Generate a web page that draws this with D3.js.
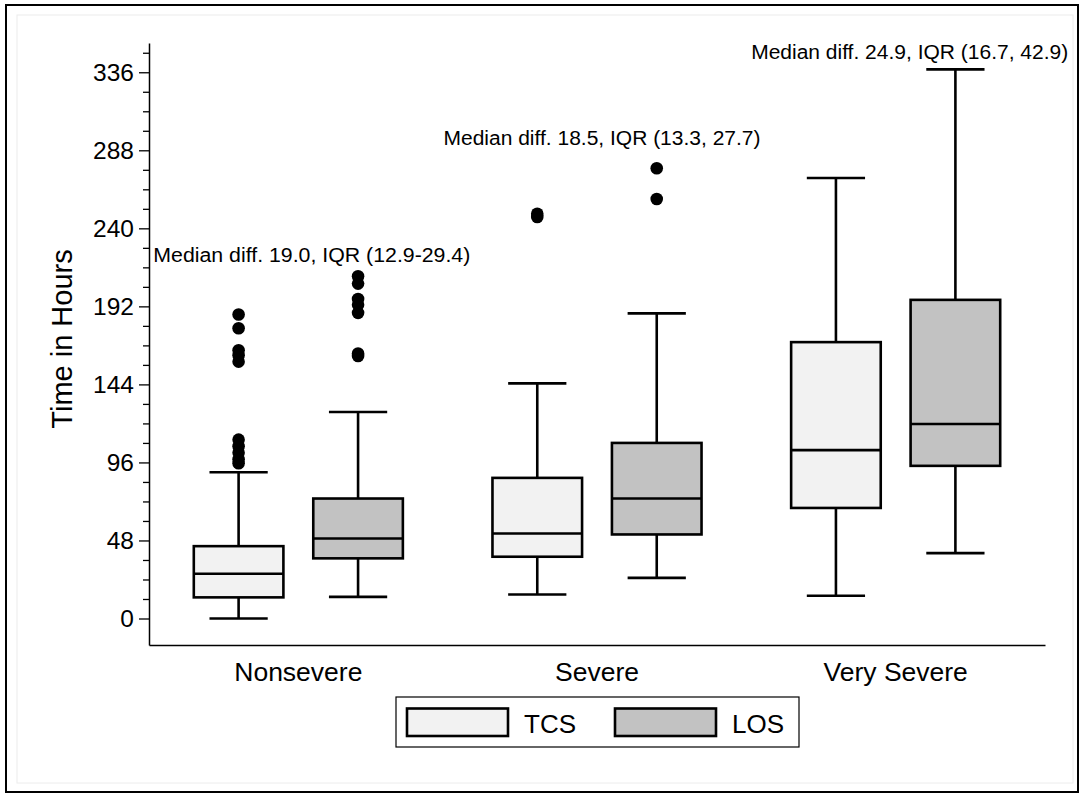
<!DOCTYPE html>
<html>
<head>
<meta charset="utf-8">
<script src="https://cdn.jsdelivr.net/npm/d3@7"></script>
<style>
  body { margin: 0; background: #fff; }
  text { font-family: "Liberation Sans", Arial, sans-serif; fill: #000; }
</style>
</head>
<body>
<div id="chart"></div>
<script>
// data (hours)
var categories = ["Nonsevere", "Severe", "Very Severe"];
var seriesNames = ["TCS", "LOS"];
// [min, q1, median, q3, max]
var tcsBoxes = [[0, 13, 27.5, 44.5, 90], [14.8, 38, 52.3, 86.5, 144.6], [14, 68, 103.6, 170, 271]];
var losBoxes = [[13.3, 37, 49.2, 73.8, 127], [25, 51.7, 73.8, 108, 187.7], [40.2, 93.9, 119.6, 196, 337.8]];
var tcsOutliers = [[187, 178.5, 165, 162, 158, 110, 106, 102, 98, 95.5], [249, 247], []];
var losOutliers = [[210.5, 206, 196.5, 193, 188, 163, 161.5], [277, 258], []];
var yTicks = [0, 48, 96, 144, 192, 240, 288, 336];
var notes = ["Median diff. 19.0, IQR (12.9-29.4)", "Median diff. 18.5, IQR (13.3, 27.7)", "Median diff. 24.9, IQR (16.7, 42.9)"];
var noteHours = [219.5, 291.3, 344.2];

var svgWidth = 1081, svgHeight = 794;
var fills = ["#f2f2f2", "#c2c2c2"];

var svg = d3.select("#chart").append("svg")
  .attr("width", svgWidth)
  .attr("height", svgHeight);

// outer frame
svg.append("rect")
  .attr("x", 6).attr("y", 5)
  .attr("width", 1072).attr("height", 787)
  .attr("fill", "none").attr("stroke", "#000").attr("stroke-width", 2);
svg.append("rect")
  .attr("x", 17).attr("y", 15)
  .attr("width", 1056).attr("height", 768)
  .attr("fill", "none").attr("stroke", "#ececec").attr("stroke-width", 1);

var x = d3.scaleBand().domain(categories).range([149, 1045]).padding(0);
var y = d3.scaleLinear().domain([-16.3, 354]).range([645, 43]);

var bw = x.bandwidth();
var boxW = bw * 0.3;
var capW = boxW * 0.65;
var offsets = [-0.2 * bw, 0.2 * bw];

// y axis, minor ticks first
var minor = d3.range(0, 349, 12).filter(function(d) { return d % 48 !== 0; });
svg.append("g")
  .attr("transform", "translate(149,0)")
  .call(d3.axisLeft(y).tickValues(minor).tickSize(6).tickSizeOuter(0).tickFormat(""))
  .call(function(g) { g.select(".domain").remove(); })
  .selectAll("line").attr("stroke-width", 1.3);

var yAxis = svg.append("g")
  .attr("transform", "translate(149,0)")
  .call(d3.axisLeft(y).tickValues(yTicks).tickSize(10).tickSizeOuter(0).tickPadding(5));
yAxis.select(".domain").attr("stroke-width", 1.5);
yAxis.selectAll("line").attr("stroke-width", 1.3);
yAxis.selectAll("text")
  .attr("font-size", "24.5px")
  .attr("font-family", "'Liberation Sans', Arial, sans-serif")
  .attr("fill", "#000");

var xAxis = svg.append("g")
  .attr("transform", "translate(0,645)")
  .call(d3.axisBottom(x).tickSize(0).tickSizeOuter(0).tickPadding(17));
xAxis.select(".domain").attr("stroke-width", 1.5);
xAxis.selectAll("text")
  .attr("font-size", "26.5px")
  .attr("font-family", "'Liberation Sans', Arial, sans-serif")
  .attr("fill", "#000");

svg.append("text")
  .attr("transform", "translate(72,339) rotate(-90)")
  .attr("text-anchor", "middle")
  .attr("font-size", "29px")
  .text("Time in Hours");

// boxes
[tcsBoxes, losBoxes].forEach(function(boxes, s) {
  var outliers = s === 0 ? tcsOutliers : losOutliers;
  categories.forEach(function(cat, i) {
    var b = boxes[i];
    var cx = x(cat) + bw / 2 + offsets[s];
    var g = svg.append("g").attr("stroke", "#000").attr("stroke-width", 2.6);
    g.append("line").attr("x1", cx).attr("x2", cx).attr("y1", y(b[0])).attr("y2", y(b[1]));
    g.append("line").attr("x1", cx).attr("x2", cx).attr("y1", y(b[3])).attr("y2", y(b[4]));
    g.append("line").attr("x1", cx - capW / 2).attr("x2", cx + capW / 2).attr("y1", y(b[0])).attr("y2", y(b[0]));
    g.append("line").attr("x1", cx - capW / 2).attr("x2", cx + capW / 2).attr("y1", y(b[4])).attr("y2", y(b[4]));
    g.append("rect")
      .attr("x", cx - boxW / 2).attr("y", y(b[3]))
      .attr("width", boxW).attr("height", y(b[1]) - y(b[3]))
      .attr("fill", fills[s]);
    g.append("line").attr("x1", cx - boxW / 2).attr("x2", cx + boxW / 2).attr("y1", y(b[2])).attr("y2", y(b[2]));

    svg.selectAll(null)
      .data(outliers[i])
      .enter()
      .append("circle")
      .attr("cx", cx)
      .attr("cy", function(d) { return y(d); })
      .attr("r", 6.3)
      .attr("fill", "#000");
  });
});

// annotations
var noteDx = [13.5, 5, 14];
notes.forEach(function(t, i) {
  svg.append("text")
    .attr("x", x(categories[i]) + bw / 2 + noteDx[i])
    .attr("y", y(noteHours[i]))
    .attr("text-anchor", "middle")
    .attr("font-size", "19.5px")
    .attr("textLength", 317)
    .attr("lengthAdjust", "spacingAndGlyphs")
    .text(t);
});

// legend
var legend = svg.append("g");
legend.append("rect")
  .attr("x", 396).attr("y", 697)
  .attr("width", 403).attr("height", 50)
  .attr("fill", "#fff").attr("stroke", "#000").attr("stroke-width", 1.2);
var legendX = [407, 615];
seriesNames.forEach(function(name, s) {
  legend.append("rect")
    .attr("x", legendX[s]).attr("y", 708.5)
    .attr("width", 101).attr("height", 27.5)
    .attr("fill", fills[s]).attr("stroke", "#000").attr("stroke-width", 2.6);
  legend.append("text")
    .attr("x", legendX[s] + 117).attr("y", 733)
    .attr("font-size", "26px")
    .text(name);
});
</script>
</body>
</html>
